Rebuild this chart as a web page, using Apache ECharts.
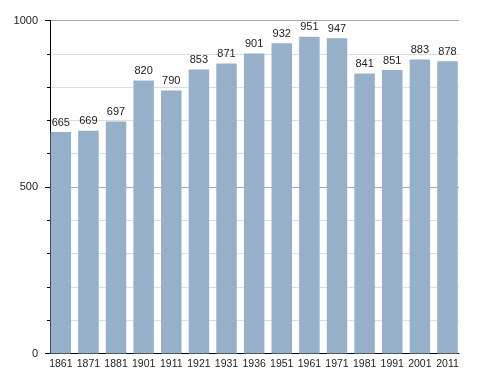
<!DOCTYPE html>
<html><head><meta charset="utf-8">
<script src="https://cdn.jsdelivr.net/npm/echarts@6/dist/echarts.min.js"></script>
<style>html,body{margin:0;padding:0;background:#fff}#c{width:488px;height:373px}</style>
</head><body><div id="c"></div>
<script>
const years = ['1861','1871','1881','1901','1911','1921','1931','1936','1951','1961','1971','1981','1991','2001','2011'];
const population = [665,669,697,820,790,853,871,901,932,951,947,841,851,883,878];
const yMin = 0, yMax = 1000, yInterval = 500;

const chart = echarts.init(document.getElementById('c'), null, {renderer:'canvas'});
const font = 'Liberation Sans, Arial, sans-serif';
chart.setOption({
  animation:false,
  grid:[
    {left:50, right:29, top:20.5, bottom:19.5},
    {left:47, right:26.7, top:20.5, bottom:19.5}
  ],
  xAxis:[
    {gridIndex:0, type:'value', min:0, max:1, axisLabel:{show:false}, axisTick:{show:false}, splitLine:{show:false},
     axisLine:{show:true, lineStyle:{color:'#000', width:1}}},
    {gridIndex:1, type:'category', data:years, axisLine:{show:false}, axisTick:{show:false},
     axisLabel:{interval:0, color:'#222', fontSize:10.5, fontFamily:font, margin:5}}
  ],
  yAxis:[
    {gridIndex:0, type:'value', min:yMin, max:yMax, interval:yInterval,
     axisLine:{show:true, lineStyle:{color:'#000'}},
     axisTick:{show:true, length:5, lineStyle:{color:'#000'}},
     minorTick:{show:true, splitNumber:5, length:3, lineStyle:{color:'#000'}},
     splitLine:{show:true, lineStyle:{color:'#aaa'}},
     minorSplitLine:{show:true, lineStyle:{color:'#ddd'}},
     axisLabel:{color:'#222', fontSize:11, fontFamily:font, margin:12, formatter: v => String(v)}},
    {gridIndex:1, type:'value', min:yMin, max:yMax, show:false, splitLine:{show:false}}
  ],
  series:[{
    type:'bar', xAxisIndex:1, yAxisIndex:1, data:population, barWidth:20.5,
    itemStyle:{color:'#97b0c9'},
    label:{show:true, position:'top', distance:4, color:'#222', fontSize:11, fontFamily:font}
  }]
});
</script></body></html>
